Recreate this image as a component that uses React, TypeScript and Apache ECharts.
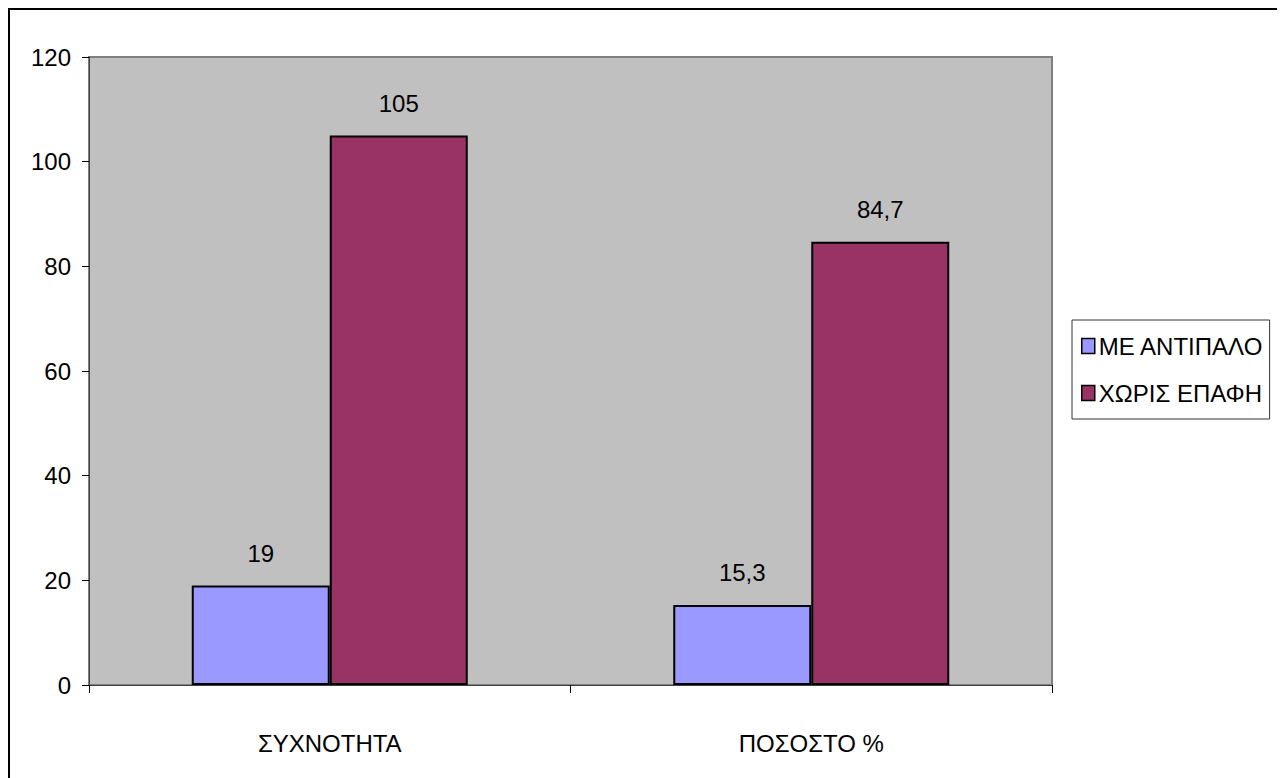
import React, { useEffect, useRef } from "react";
import * as echarts from "echarts";

// Chart data
const categories = ["ΣΥΧΝΟΤΗΤΑ", "ΠΟΣΟΣΤΟ %"];
const seriesNames = ["ΜΕ ΑΝΤΙΠΑΛΟ", "ΧΩΡΙΣ ΕΠΑΦΗ"];
const withOpponent = [19, 15.3];
const withoutContact = [105, 84.7];
const seriesColors = ["#9999FF", "#993366"];

const FONT = "'Liberation Sans', Arial, sans-serif";

const fmt = (v: number) => String(v).replace(".", ",");

export default function App() {
  const ref = useRef<HTMLDivElement>(null);

  useEffect(() => {
    if (!ref.current) return;
    const chart = echarts.init(ref.current, undefined, { renderer: "svg" });
    const values = [withOpponent, withoutContact];
    chart.setOption({
      animation: false,
      textStyle: { fontFamily: FONT },
      grid: {
        left: 79,
        top: 47,
        width: 963,
        height: 628,
        show: true,
        backgroundColor: "#C0C0C0",
        borderColor: "#808080",
        borderWidth: 2,
      },
      legend: {
        orient: "vertical",
        left: 1062,
        top: 310,
        padding: [14, 6, 14, 9],
        itemGap: 23,
        itemWidth: 13,
        itemHeight: 15,
        icon: "rect",
        borderColor: "#333",
        borderWidth: 1,
        backgroundColor: "#fff",
        textStyle: { fontSize: 24, color: "#000", fontFamily: FONT, padding: [0, 0, 0, -1] },
        itemStyle: { borderColor: "#000", borderWidth: 1.5 },
        data: seriesNames,
      },
      xAxis: {
        type: "category",
        data: categories,
        axisLine: { show: true, lineStyle: { color: "#404040", width: 1 } },
        axisTick: { show: true, length: 8, lineStyle: { color: "#000" } },
        axisLabel: { fontSize: 24, color: "#000", margin: 46, fontFamily: FONT },
        splitLine: { show: false },
      },
      yAxis: {
        type: "value",
        min: 0,
        max: 120,
        interval: 20,
        axisLine: { show: true, lineStyle: { color: "#404040", width: 1 } },
        axisTick: { show: true, length: 7, lineStyle: { color: "#000" } },
        axisLabel: { fontSize: 24, color: "#000", margin: 18, fontFamily: FONT },
        splitLine: { show: false },
      },
      series: seriesNames.map((name, i) => ({
        name,
        type: "bar",
        data: values[i],
        barWidth: 138,
        barGap: "0%",
        itemStyle: { color: seriesColors[i], borderColor: "#000", borderWidth: 2 },
        label: {
          show: true,
          position: "top",
          distance: 20,
          fontSize: 24,
          color: "#000",
          fontFamily: FONT,
          formatter: (p: any) => fmt(p.value),
        },
      })),
    });
    return () => chart.dispose();
  }, []);

  return (
    <div
      style={{
        position: "relative",
        width: 1271,
        height: 772,
        boxSizing: "border-box",
        borderTop: "2px solid #000",
        borderLeft: "2px solid #000",
        borderRight: "2px solid #000",
        background: "#fff",
      }}
    >
      <div ref={ref} style={{ position: "absolute", left: 0, top: 0, width: 1267, height: 768 }} />
    </div>
  );
}
